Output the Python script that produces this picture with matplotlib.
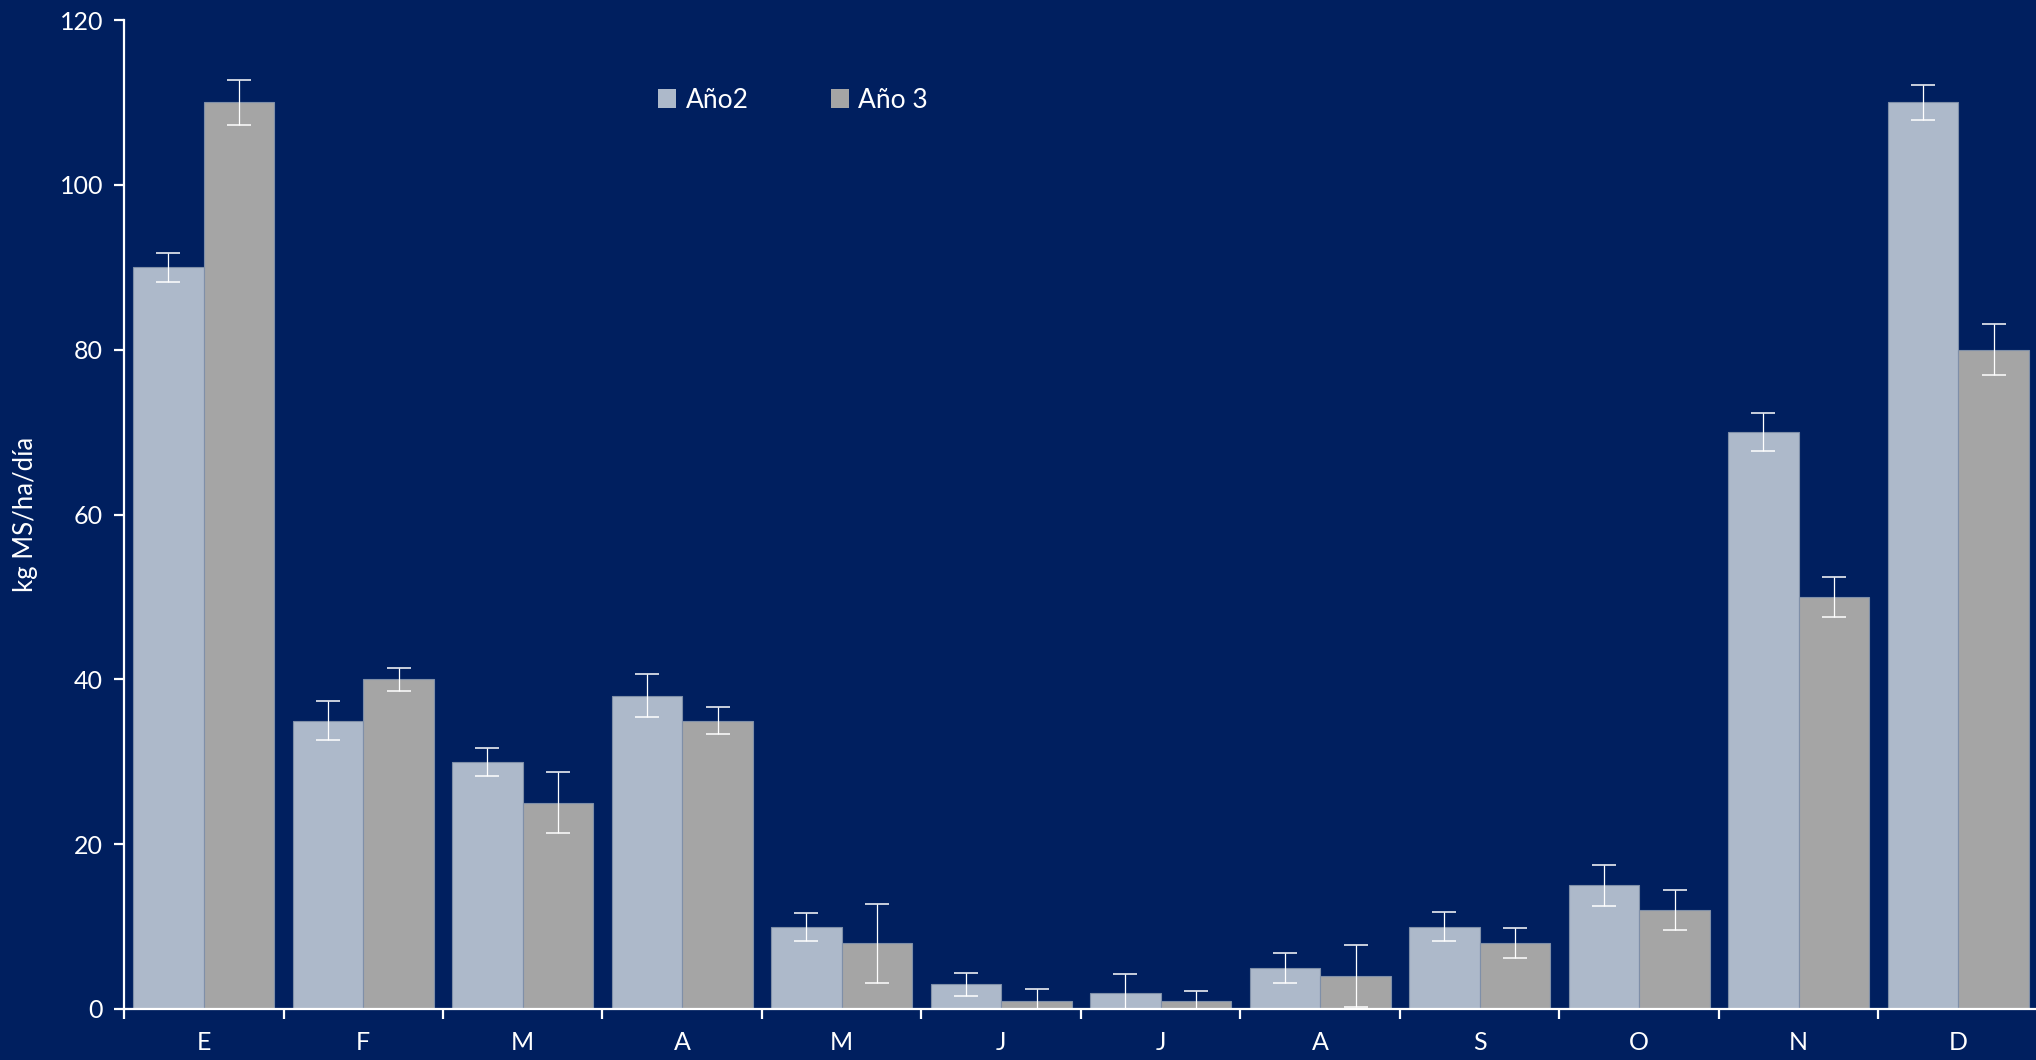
import matplotlib
matplotlib.use("Agg")
import matplotlib.pyplot as plt
from matplotlib.patches import Patch
import numpy as np

months = ["E", "F", "M", "A", "M", "J", "J", "A", "S", "O", "N", "D"]
ano2 = [90, 35, 30, 38, 10, 3, 2, 5, 10, 15, 70, 110]
ano2_err = [1.75, 2.4, 1.7, 2.6, 1.7, 1.4, 2.2, 1.8, 1.8, 2.5, 2.3, 2.1]
ano3 = [110, 40, 25, 35, 8, 1, 1, 4, 8, 12, 50, 80]
ano3_err = [2.75, 1.4, 3.7, 1.6, 4.8, 1.4, 1.2, 3.8, 1.8, 2.4, 2.4, 3.1]
series_labels = ["Año2", "Año 3"]
yticks = [0, 20, 40, 60, 80, 100, 120]

BG = "#001F5F"
C2 = "#ADB9CA"
C3 = "#A5A5A5"
EDGE = "#7F8FA8"

plt.rcParams['font.family'] = ['Lato', 'DejaVu Sans']

fig = plt.figure(figsize=(20.36, 10.60), dpi=100)
fig.patch.set_facecolor(BG)
ax = fig.add_axes([124/2036, 51/1060, 1914/2036, 989/1060])
ax.set_facecolor(BG)

x = np.arange(len(months)) + 0.5
w = 0.443
ax.bar(x - w/2, ano2, width=w, color=C2, edgecolor=EDGE, linewidth=0.8, zorder=2)
ax.bar(x + w/2, ano3, width=w, color=C3, edgecolor=EDGE, linewidth=0.8, zorder=2)
ax.errorbar(x - w/2, ano2, yerr=ano2_err, fmt='none', ecolor='white',
            elinewidth=0.9, capsize=8.6, capthick=1.1, zorder=3)
ax.errorbar(x + w/2, ano3, yerr=ano3_err, fmt='none', ecolor='white',
            elinewidth=0.9, capsize=8.6, capthick=1.1, zorder=3)

ax.set_xlim(0, len(months))
ax.set_ylim(0, 120)
ax.set_yticks(yticks)
ax.set_yticklabels([str(v) for v in yticks])
ax.set_xticks(np.arange(len(months) + 1))
ax.set_xticklabels([])
ax.set_xticks(x, minor=True)
ax.set_xticklabels(months, minor=True)

for s in ["top", "right"]:
    ax.spines[s].set_visible(False)
for s in ["left", "bottom"]:
    ax.spines[s].set_color("white")
    ax.spines[s].set_linewidth(1.6)

ax.tick_params(axis='y', colors='white', labelsize=18, length=7, width=1.6, pad=8)
ax.tick_params(axis='x', which='major', colors='white', length=7, width=1.6)
ax.tick_params(axis='x', which='minor', colors='white', length=0, labelsize=18, pad=16)

ax.set_ylabel("kg MS/ha/día", color='white', fontsize=18.5)
ax.yaxis.set_label_coords(-0.045, 0.5)

handles = [Patch(facecolor=C2, edgecolor='none'), Patch(facecolor=C3, edgecolor='none')]
leg = fig.legend(handles, series_labels, ncol=2, loc='center',
                 bbox_to_anchor=(793/2036, 1 - 100/1060), frameon=False,
                 fontsize=19, labelcolor='white', handlelength=0.7, handleheight=0.7,
                 handletextpad=0.35, columnspacing=3.1)

fig.savefig("out.png", dpi=100, facecolor=BG)
